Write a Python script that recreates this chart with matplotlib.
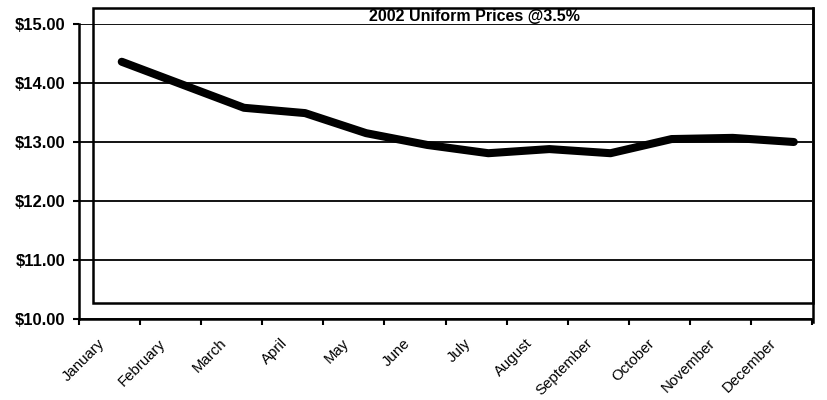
import numpy as np
import matplotlib
matplotlib.use("Agg")
import matplotlib.pyplot as plt
from matplotlib.patches import Rectangle

MONTHS = ["January", "February", "March", "April", "May", "June", "July",
          "August", "September", "October", "November", "December"]
PRICES = [14.36, 13.97, 13.58, 13.49, 13.15, 12.95, 12.81, 12.88, 12.81,
          13.05, 13.07, 13.00]
Y_TICKS = [10, 11, 12, 13, 14, 15]
TITLE = "2002 Uniform Prices @3.5%"

plt.rcParams["font.family"] = ["Liberation Sans", "DejaVu Sans"]

fig = plt.figure(figsize=(8.27, 4.0), dpi=100)
ax = fig.add_axes([0.0955, 0.2025, 0.8865, 0.7375])

x = np.arange(len(MONTHS))
ax.plot(x, PRICES, color="black", lw=5.8, solid_capstyle="round",
        solid_joinstyle="round", zorder=3)

ax.set_xlim(-0.70, 11.30)
ax.set_ylim(10, 15)

# tick marks on category boundaries, labels offset to the left
ax.set_xticks(np.arange(13) - 0.70)
ax.set_xticklabels([])
ax.set_xticks(x - 0.32, minor=True)
ax.set_xticklabels(MONTHS, minor=True, rotation=45, ha="right", va="center",
                   rotation_mode="anchor", fontsize=10.8)
ax.tick_params(axis="x", which="major", direction="out", length=4, width=1.5)
ax.tick_params(axis="x", which="minor", length=0, pad=16)

ax.set_yticks(Y_TICKS)
ax.set_yticklabels(["${:.2f}".format(v) for v in Y_TICKS], fontsize=12,
                   fontweight="bold")
ax.tick_params(axis="y", direction="out", length=4, width=1.5, pad=6)
ax.yaxis.grid(True, color="black", lw=1.3)
ax.set_axisbelow(True)

for s in ["top", "right"]:
    ax.spines[s].set_visible(False)
for s in ["left", "bottom"]:
    ax.spines[s].set_linewidth(1.8)

# inner plot-area box (offset, as in the scanned original)
fig.add_artist(Rectangle((0.1125, 0.2425), 0.8706, 0.7375,
                         transform=fig.transFigure, fill=False,
                         edgecolor="black", lw=1.8))
fig.add_artist(plt.Line2D([0.983, 0.983], [0.195, 0.98],
                          transform=fig.transFigure, color="black", lw=1.8))

fig.text(0.574, 0.9575, TITLE, ha="center", va="center", fontsize=11.5,
         fontweight="bold")

fig.savefig("out.png", dpi=100)
